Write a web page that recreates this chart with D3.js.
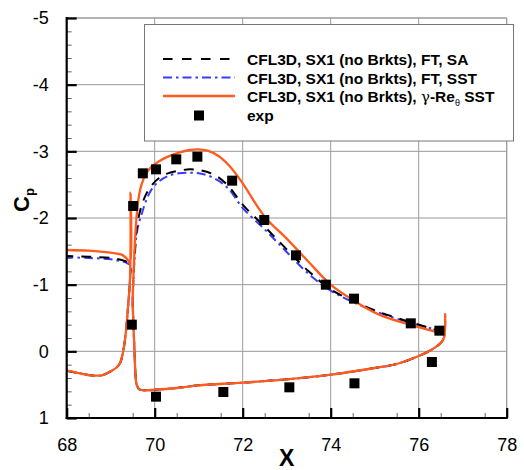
<!DOCTYPE html>
<html>
<head>
<meta charset="utf-8">
<script src="https://cdn.jsdelivr.net/npm/d3@7"></script>
<style>
  html, body { margin: 0; padding: 0; background: #fff; }
  svg { display: block; }
  text { font-family: "Liberation Sans", Arial, Helvetica, sans-serif; }
</style>
</head>
<body>
<svg id="chart" width="524" height="470"></svg>
<script>
// ---------------- DATA ----------------
const xTicks = [68, 70, 72, 74, 76, 78];
const yTicks = [-5, -4, -3, -2, -1, 0, 1];

const seriesNames = [
  "CFL3D, SX1 (no Brkts), FT, SA",
  "CFL3D, SX1 (no Brkts), FT, SST",
  "CFL3D, SX1 (no Brkts), \u03b3-Re\u03b8 SST",
  "exp"
];

// forward element (left part) lower surface, shared by the three CFD series
const slatLowerX  = [68, 68.3, 68.55, 68.8, 69.0, 69.12, 69.21, 69.29, 69.35, 69.40, 69.44];
const slatLowerCp = [0.29, 0.33, 0.36, 0.36, 0.30, 0.25, 0.18, -0.02, -0.32, -0.72, -1.1];

// forward element upper surface
const slatUpperX    = [68, 68.5, 69.0, 69.25, 69.38, 69.44];
const saSlatUpper   = [-1.43, -1.42, -1.40, -1.37, -1.34, -1.31];
const sstSlatUpper  = [-1.41, -1.40, -1.38, -1.35, -1.32, -1.29];
const gamSlatUpper  = [-1.52, -1.51, -1.48, -1.45, -1.38, -1.32];
const gamSpikeX = 69.45, gamSpikeCp = -2.38;

// main element upper surface
const mainUpperX = [69.51, 69.54, 69.58, 69.63, 69.7, 69.8, 69.93, 70.1, 70.3, 70.55, 70.8, 71.0, 71.2, 71.45, 71.7, 72.0, 72.5, 73.0, 73.5, 74.0, 74.5, 75.1, 75.8, 76.3, 76.56];
const saMainUpper  = [-1.0, -1.4, -1.78, -2.0, -2.18, -2.35, -2.49, -2.6, -2.67, -2.71, -2.73, -2.72, -2.69, -2.61, -2.46, -2.2, -1.87, -1.53, -1.2, -0.93, -0.76, -0.59, -0.44, -0.34, -0.29];
const sstMainUpper = [-1.0, -1.35, -1.7, -1.9, -2.05, -2.25, -2.43, -2.55, -2.63, -2.67, -2.68, -2.67, -2.64, -2.56, -2.42, -2.15, -1.83, -1.49, -1.16, -0.91, -0.74, -0.58, -0.43, -0.34, -0.28];
const gamMainUpper = [-1.0, -1.5, -1.95, -2.28, -2.5, -2.66, -2.77, -2.85, -2.92, -2.98, -3.02, -3.03, -3.01, -2.93, -2.78, -2.52, -2.02, -1.69, -1.34, -1.0, -0.77, -0.55, -0.40, -0.31, -0.26];

// main element lower surface (shared)
const mainLowerX  = [69.51, 69.50, 69.52, 69.54, 69.56, 69.59, 69.65, 69.8, 70.0, 70.5, 71.0, 72.0, 73.0, 74.0, 75.0, 75.5, 76.0, 76.2, 76.4, 76.52, 76.58, 76.6];
const mainLowerCp = [-1.0, -0.75, -0.35, -0.02, 0.3, 0.5, 0.57, 0.585, 0.575, 0.55, 0.51, 0.47, 0.42, 0.35, 0.25, 0.19, 0.07, 0.01, -0.07, -0.14, -0.22, -0.57];

// experiment
const expX  = [69.51, 69.73, 70.03, 70.49, 70.97, 71.76, 72.49, 73.21, 73.89, 74.53, 75.82, 76.47, 76.30, 69.48, 70.03, 71.56, 73.06, 74.54];
const expCp = [-2.18, -2.67, -2.73, -2.88, -2.92, -2.56, -1.97, -1.44, -1.00, -0.79, -0.42, -0.31, 0.16, -0.40, 0.68, 0.61, 0.54, 0.48];

// ---------------- DRAWING ----------------
const svg = d3.select("#chart");
const pL = 66.7, pR = 506.7, pT = 18, pB = 418;
const x = d3.scaleLinear().domain([68, 78]).range([pL, pR]);
const y = d3.scaleLinear().domain([-5, 1]).range([pT, pB]);

const cBlack = "#000000", cBlue = "#3b3bff", cOrange = "#ff5b1c", cGrid = "#9a9a9a";

// grid
const g = svg.append("g");
g.selectAll("line.vg").data(xTicks.slice(1)).enter().append("line")
  .attr("x1", d => x(d)).attr("x2", d => x(d)).attr("y1", pT).attr("y2", pB)
  .attr("stroke", cGrid).attr("stroke-width", 1);
g.selectAll("line.hg").data(yTicks.slice(0, -1)).enter().append("line")
  .attr("x1", pL).attr("x2", pR).attr("y1", d => y(d)).attr("y2", d => y(d))
  .attr("stroke", cGrid).attr("stroke-width", 1);

// clip
svg.append("clipPath").attr("id", "clip").append("rect")
  .attr("x", pL).attr("y", pT).attr("width", pR - pL).attr("height", pB - pT);

const line = d3.line().x(d => x(d[0])).y(d => y(d[1])).curve(d3.curveCatmullRom.alpha(0.5));
const zip = (xs, ys) => xs.map((v, i) => [v, ys[i]]);

function slatPath(upper, spike) {
  const pts = zip(slatLowerX, slatLowerCp);
  if (spike) pts.push(spike);
  return pts.concat(zip(slatUpperX, upper).reverse());
}
function mainPath(upper) {
  return zip(mainUpperX, upper).reverse().concat(zip(mainLowerX, mainLowerCp).slice(1));
}

const series = [
  { slat: slatPath(sstSlatUpper), main: mainPath(sstMainUpper), color: cBlue, w: 2, dash: "9,4,2.5,4" },
  { slat: slatPath(saSlatUpper), main: mainPath(saMainUpper), color: cBlack, w: 2, dash: "10,8" },
  { slat: slatPath(gamSlatUpper, [gamSpikeX, gamSpikeCp]), main: mainPath(gamMainUpper), color: cOrange, w: 2.3, dash: null }
];

const curves = svg.append("g").attr("clip-path", "url(#clip)");
series.forEach(s => {
  [s.slat, s.main].forEach(p => {
    curves.append("path").attr("d", line(p)).attr("fill", "none")
      .attr("stroke", s.color).attr("stroke-width", s.w)
      .attr("stroke-linejoin", "round")
      .attr("stroke-dasharray", s.dash);
  });
});

// markers
const ms = 10;
svg.append("g").selectAll("rect").data(zip(expX, expCp)).enter().append("rect")
  .attr("x", d => x(d[0]) - ms / 2).attr("y", d => y(d[1]) - ms / 2)
  .attr("width", ms).attr("height", ms).attr("fill", "#000");

// frame: top/right gray, left/bottom black
svg.append("line").attr("x1", pL).attr("x2", pR).attr("y1", pT).attr("y2", pT).attr("stroke", cGrid);
svg.append("line").attr("x1", pR).attr("x2", pR).attr("y1", pT).attr("y2", pB).attr("stroke", cGrid);

// axes
const fmt = d => String(d);
const xAxis = d3.axisBottom(x).tickValues(xTicks).tickSize(-10).tickPadding(20).tickFormat(fmt);
const xMinor = d3.axisBottom(x).tickValues(d3.range(68.5, 78, 1)).tickSize(-5).tickFormat("");
const yAxis = d3.axisLeft(y).tickValues(yTicks).tickSize(-10).tickPadding(18).tickFormat(fmt);
const yMinor = d3.axisLeft(y).tickValues(d3.range(-4.8, 1, 0.2).filter(v => Math.abs(v - Math.round(v)) > 0.01)).tickSize(-5).tickFormat("");

function styleAxis(sel, major) {
  sel.select(".domain").remove();
  sel.selectAll(".tick line").attr("stroke", major ? "#000" : "#666").attr("stroke-width", major ? 2.2 : 1);
  sel.selectAll(".tick text").attr("font-size", 18).attr("fill", "#000")
    .style("font-family", '"Liberation Sans", Arial, sans-serif');
}
svg.append("g").attr("transform", `translate(0,${pB})`).call(xMinor).call(s => styleAxis(s, false));
svg.append("g").attr("transform", `translate(${pL},0)`).call(yMinor).call(s => styleAxis(s, false));
svg.append("g").attr("transform", `translate(0,${pB})`).call(xAxis).call(s => styleAxis(s, true));
svg.append("g").attr("transform", `translate(${pL},0)`).call(yAxis).call(s => styleAxis(s, true));

svg.append("line").attr("x1", pL).attr("x2", pL).attr("y1", pT - 1).attr("y2", pB + 1).attr("stroke", "#000").attr("stroke-width", 2.2);
svg.append("line").attr("x1", pL - 1).attr("x2", pR + 1).attr("y1", pB).attr("y2", pB).attr("stroke", "#000").attr("stroke-width", 2.2);

// axis titles
svg.append("text").attr("x", x(73)).attr("y", 466).attr("text-anchor", "middle")
  .attr("font-size", 23).attr("font-weight", "bold").text("X");
const yt = svg.append("text").attr("transform", "translate(29,200) rotate(-90)")
  .attr("text-anchor", "middle").attr("font-size", 22).attr("font-weight", "bold");
yt.append("tspan").text("C");
yt.append("tspan").attr("font-size", 13).attr("dy", 5).text("p");

// legend
const lg = svg.append("g");
lg.append("rect").attr("x", 144.5).attr("y", 24.5).attr("width", 369).attr("height", 116.5)
  .attr("fill", "#fff").attr("stroke", "#777").attr("stroke-width", 1);
const rowsY = [65, 83.5, 102, 120.5];
const lx1 = 163, lx2 = 235, tx = 247;
const legendLines = [
  { color: cBlack, w: 2.2, dash: "9.5,9.5" },
  { color: cBlue, w: 2, dash: "9,4,2.5,4" },
  { color: cOrange, w: 2.5, dash: null }
];
legendLines.forEach((s, i) => {
  lg.append("line").attr("x1", lx1).attr("x2", lx2).attr("y1", rowsY[i] - 6).attr("y2", rowsY[i] - 6)
    .attr("stroke", s.color).attr("stroke-width", s.w).attr("stroke-dasharray", s.dash);
});
lg.append("rect").attr("x", (lx1 + lx2) / 2 - 5).attr("y", rowsY[3] - 10).attr("width", 10).attr("height", 10).attr("fill", "#000");

const fs = 15.5;
[0, 1].forEach(i => {
  lg.append("text").attr("x", tx).attr("y", rowsY[i]).attr("font-size", fs).attr("font-weight", "bold").text(seriesNames[i]);
});
const t3 = lg.append("text").attr("x", tx).attr("y", rowsY[2]).attr("font-size", fs).attr("font-weight", "bold");
t3.append("tspan").text("CFL3D, SX1 (no Brkts), ");
t3.append("tspan").attr("font-weight", "normal").style("font-family", '"DejaVu Serif", serif').attr("font-size", 15).text("\u03b3");
t3.append("tspan").text("-Re");
t3.append("tspan").attr("font-size", 9).attr("font-weight", "normal").attr("dy", 4).text("\u03b8");
t3.append("tspan").attr("dy", -4).text(" SST");
lg.append("text").attr("x", tx).attr("y", rowsY[3]).attr("font-size", fs).attr("font-weight", "bold").text(seriesNames[3]);
</script>
</body>
</html>
